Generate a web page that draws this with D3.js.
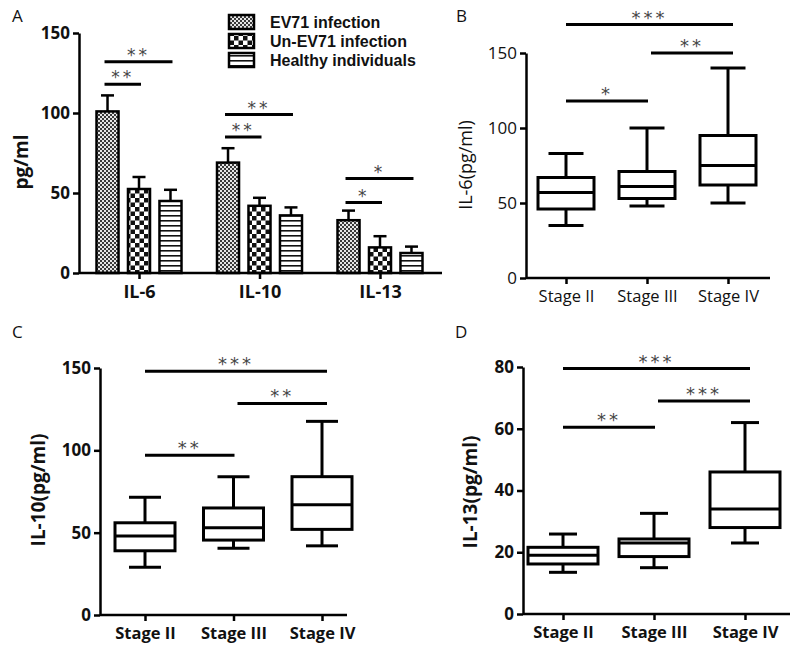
<!DOCTYPE html>
<html><head><meta charset="utf-8">
<script src="https://cdn.jsdelivr.net/npm/d3@7"></script>
<style>body{margin:0;background:#fff}svg{display:block}text{font-family:"Open Sans",sans-serif}</style>
</head><body>
<svg id="c" width="800" height="649"></svg>
<script>
// ---------- DATA ----------
const groupsA = ["IL-6", "IL-10", "IL-13"];
const seriesA = ["EV71 infection", "Un-EV71 infection", "Healthy individuals"];
const meansA = [[101, 52.5, 45], [69, 42, 36], [33, 16, 12.5]];
const errA = [[111, 60, 52], [78, 47, 41], [39, 23, 16.5]];
const ticksA = [0, 50, 100, 150];
// significance in A: [group, fromSeries, toSeries, yValue, label]
const sigA = [
  [0, 0, 1, 118, "**"], [0, 0, 2, 132, "**"],
  [1, 0, 1, 85, "**"], [1, 0, 2, 99, "**"],
  [2, 0, 1, 44, "*"], [2, 0, 2, 59, "*"]
];

const stages = ["Stage II", "Stage III", "Stage IV"];
// [min, q1, median, q3, max]
const boxB = [[35, 46, 57, 67, 83], [48, 53, 61, 71, 100], [50, 62, 75, 95, 140]];
const boxC = [[29, 39, 48, 56, 71.5], [40.6, 45.5, 53, 65, 84], [42, 52, 67, 84, 117.6]];
const boxD = [[13.5, 16.2, 19, 21.6, 25.9], [15, 18.6, 23, 24.3, 32.6], [23, 28, 34, 46, 62]];
const ticksB = [0, 50, 100, 150];
const ticksC = [0, 50, 100, 150];
const ticksD = [0, 20, 40, 60, 80];
// [from, to, yValue, label]
const sigB = [[0, 1, 118, "*"], [1, 2, 150, "**"], [0, 2, 169, "***"]];
const sigC = [[0, 1, 97, "**"], [1, 2, 128.5, "**"], [0, 2, 148, "***"]];
const sigD = [[0, 1, 60.5, "**"], [1, 2, 69, "***"], [0, 2, 79.5, "***"]];

// ---------- DRAW ----------
const svg = d3.select("#c");
const defs = svg.append("defs");

// patterns
const p1 = defs.append("pattern").attr("id", "pEV").attr("patternUnits", "userSpaceOnUse").attr("width", 4).attr("height", 4);
p1.append("rect").attr("width", 4).attr("height", 4).attr("fill", "#e6e6e6");
p1.append("rect").attr("width", 2).attr("height", 2).attr("fill", "#3a3a3a");
p1.append("rect").attr("x", 2).attr("y", 2).attr("width", 2).attr("height", 2).attr("fill", "#3a3a3a");
const p2 = defs.append("pattern").attr("id", "pUn").attr("patternUnits", "userSpaceOnUse").attr("width", 9).attr("height", 9);
p2.append("rect").attr("width", 9).attr("height", 9).attr("fill", "#fff");
p2.append("rect").attr("width", 4.5).attr("height", 4.5).attr("fill", "#111");
p2.append("rect").attr("x", 4.5).attr("y", 4.5).attr("width", 4.5).attr("height", 4.5).attr("fill", "#111");
const p3 = defs.append("pattern").attr("id", "pH").attr("patternUnits", "userSpaceOnUse").attr("width", 5).attr("height", 5);
p3.append("rect").attr("width", 5).attr("height", 5).attr("fill", "#fff");
p3.append("rect").attr("y", 0).attr("width", 5).attr("height", 1.6).attr("fill", "#111");
const fills = ["url(#pEV)", "url(#pUn)", "url(#pH)"];

function panelLabel(t, x, y) {
  svg.append("text").attr("x", x).attr("y", y).attr("font-size", 17).attr("fill", "#111").text(t);
}
function styleAxis(g, fs, fw) {
  g.selectAll("path,line").attr("stroke", "#000").attr("stroke-width", 2.5);
  g.selectAll("text").attr("font-size", fs).attr("font-weight", fw).attr("fill", "#111")
    .style("font-family", "'Open Sans',sans-serif");
}
const starLayer = svg.append("g").attr("opacity", 0.99);
function stars(x, y, label, fs) {
  starLayer.append("text").attr("x", x).attr("y", y - 1).attr("text-anchor", "middle")
    .attr("font-size", fs).attr("fill", "#444").attr("letter-spacing", 3)
    .style("font-family", "'DejaVu Sans',sans-serif").text(label);
}

// ----- Panel A -----
panelLabel("A", 12, 22);
const yA = d3.scaleLinear().domain([0, 150]).range([273, 33]);
const x0 = d3.scalePoint().domain(groupsA).range([139, 380]);
const x1 = d3.scaleBand().domain(seriesA).range([-42.5, 42.5]).paddingInner(0.3);
const gA = svg.append("g");
groupsA.forEach((grp, gi) => {
  seriesA.forEach((s, si) => {
    const xl = x0(grp) + x1(s);
    const cx = xl + x1.bandwidth() / 2;
    gA.append("line").attr("x1", cx).attr("x2", cx).attr("y1", yA(meansA[gi][si])).attr("y2", yA(errA[gi][si]))
      .attr("stroke", "#000").attr("stroke-width", 2.5);
    gA.append("line").attr("x1", cx - 6.5).attr("x2", cx + 6.5).attr("y1", yA(errA[gi][si])).attr("y2", yA(errA[gi][si]))
      .attr("stroke", "#000").attr("stroke-width", 2.5);
    gA.append("rect").attr("x", xl).attr("y", yA(meansA[gi][si])).attr("width", x1.bandwidth())
      .attr("height", yA(0) - yA(meansA[gi][si])).attr("fill", fills[si]).attr("stroke", "#000").attr("stroke-width", 2.5);
  });
});
const axYA = svg.append("g").attr("transform", "translate(79,0)").call(d3.axisLeft(yA).tickValues(ticksA).tickSize(6).tickSizeOuter(0).tickPadding(3));
styleAxis(axYA, 17, "bold");
const axXA = svg.append("g").attr("transform", `translate(0,${yA(0)})`).call(d3.axisBottom(x0).tickSize(6).tickSizeOuter(0).tickPadding(6));
styleAxis(axXA, 18, "bold");
axXA.select(".domain").attr("d", "M79,0H442");
svg.append("text").attr("transform", "translate(28,162) rotate(-90)").attr("text-anchor", "middle")
  .attr("font-size", 19).attr("font-weight", "bold").attr("fill", "#111").text("pg/ml");
sigA.forEach(([gi, a, b, v, lab]) => {
  const xa = x0(groupsA[gi]) + x1(seriesA[a]) + x1.bandwidth() / 2 - 3;
  const xb = x0(groupsA[gi]) + x1(seriesA[b]) + x1.bandwidth() / 2 + 2;
  gA.append("line").attr("x1", xa).attr("x2", xb).attr("y1", yA(v)).attr("y2", yA(v)).attr("stroke", "#000").attr("stroke-width", 3);
  stars((xa + xb) / 2, yA(v), lab, 17);
});
// legend
const leg = svg.append("g");
seriesA.forEach((s, i) => {
  const y = 15 + i * 19;
  leg.append("rect").attr("x", 229).attr("y", y).attr("width", 25).attr("height", 14).attr("fill", fills[i]).attr("stroke", "#000").attr("stroke-width", 2.5);
  leg.append("text").attr("x", 270).attr("y", y + 13).attr("font-size", 16).attr("font-weight", "bold").attr("fill", "#111")
    .style("font-family", "'Liberation Sans',Arial,sans-serif").text(s);
});

// ----- Box panels -----
function boxPanel(o) {
  panelLabel(o.label, o.labelX, o.labelY);
  const y = d3.scaleLinear().domain([0, o.max]).range([o.y0, o.y1]);
  const x = d3.scalePoint().domain(stages).range(o.xr);
  const g = svg.append("g");
  const ay = g.append("g").attr("transform", `translate(${o.ax},0)`).call(d3.axisLeft(y).tickValues(o.ticks).tickSize(6).tickSizeOuter(0).tickPadding(3));
  styleAxis(ay, 17, o.fw);
  const axx = g.append("g").attr("transform", `translate(0,${o.y0})`).call(d3.axisBottom(x).tickSize(6).tickSizeOuter(0).tickPadding(6));
  styleAxis(axx, 16.5, o.fw);
  axx.select(".domain").attr("d", `M${o.ax},0H${o.axEnd}`);
  o.data.forEach((d, i) => {
    const cx = x(stages[i]);
    const bw = o.bw, cw = o.cw;
    const sw = 3;
    g.append("line").attr("x1", cx).attr("x2", cx).attr("y1", y(d[0])).attr("y2", y(d[1])).attr("stroke", "#000").attr("stroke-width", sw);
    g.append("line").attr("x1", cx).attr("x2", cx).attr("y1", y(d[3])).attr("y2", y(d[4])).attr("stroke", "#000").attr("stroke-width", sw);
    g.append("line").attr("x1", cx - cw / 2).attr("x2", cx + cw / 2).attr("y1", y(d[0])).attr("y2", y(d[0])).attr("stroke", "#000").attr("stroke-width", sw);
    g.append("line").attr("x1", cx - cw / 2).attr("x2", cx + cw / 2).attr("y1", y(d[4])).attr("y2", y(d[4])).attr("stroke", "#000").attr("stroke-width", sw);
    g.append("rect").attr("x", cx - bw / 2).attr("y", y(d[3])).attr("width", bw).attr("height", y(d[1]) - y(d[3]))
      .attr("fill", "#fff").attr("stroke", "#000").attr("stroke-width", sw);
    g.append("line").attr("x1", cx - bw / 2).attr("x2", cx + bw / 2).attr("y1", y(d[2])).attr("y2", y(d[2])).attr("stroke", "#000").attr("stroke-width", sw);
  });
  o.sig.forEach(([a, b, v, lab]) => {
    const xa = x(stages[a]) + (a === 1 ? 4 : 0);
    const xb = x(stages[b]) + (b === 2 ? 5 : 1);
    g.append("line").attr("x1", xa).attr("x2", xb).attr("y1", y(v)).attr("y2", y(v)).attr("stroke", "#000").attr("stroke-width", 3);
    stars((xa + xb) / 2, y(v), lab, 18);
  });
  svg.append("text").attr("transform", `translate(${o.tx},${o.ty}) rotate(-90)`).attr("text-anchor", "middle")
    .attr("font-size", o.tfs).attr("font-weight", o.fw).attr("fill", "#111").text(o.title);
}

boxPanel({label: "B", labelX: 456, labelY: 22, max: 150, y0: 278, y1: 53, ax: 526, axEnd: 770, xr: [566, 728],
  ticks: ticksB, data: boxB, sig: sigB, bw: 56, cw: 35, title: "IL-6(pg/ml)", tx: 472, ty: 165, tfs: 18, fw: "normal"});
boxPanel({label: "C", labelX: 12, labelY: 338, max: 150, y0: 615, y1: 368, ax: 100, axEnd: 347, xr: [145, 322],
  ticks: ticksC, data: boxC, sig: sigC, bw: 60, cw: 32, title: "IL-10(pg/ml)", tx: 45, ty: 490, tfs: 19, fw: "bold"});
boxPanel({label: "D", labelX: 455, labelY: 338, max: 80, y0: 614, y1: 367, ax: 523, axEnd: 790, xr: [563, 745],
  ticks: ticksD, data: boxD, sig: sigD, bw: 70, cw: 28, title: "IL-13(pg/ml)", tx: 477, ty: 492, tfs: 19, fw: "bold"});
</script>
</body></html>
